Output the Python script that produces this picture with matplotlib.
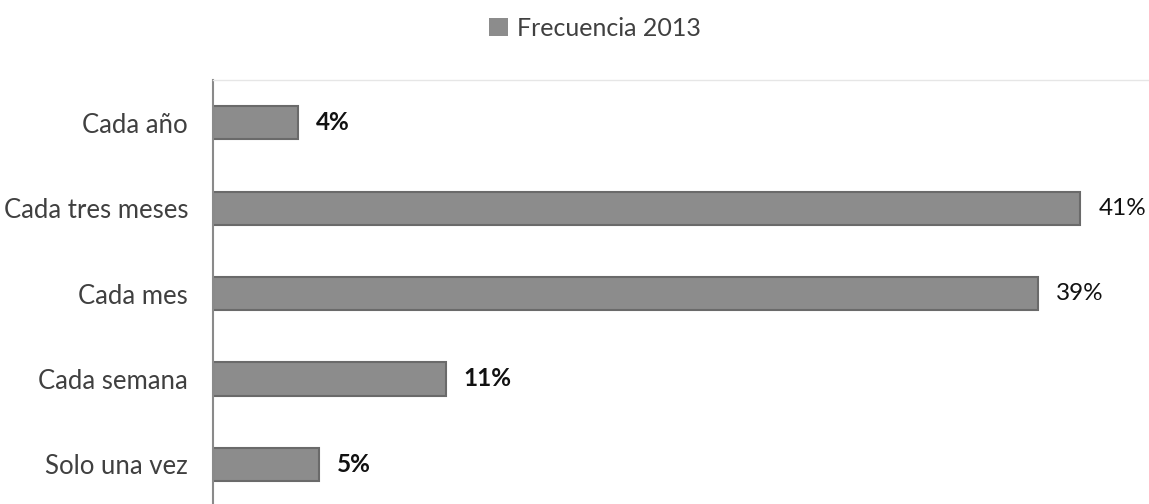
import matplotlib.pyplot as plt
from matplotlib.patches import Patch

categories = ['Cada año', 'Cada tres meses', 'Cada mes', 'Cada semana', 'Solo una vez']
values = [4, 41, 39, 11, 5]
value_labels = ['4%', '41%', '39%', '11%', '5%']
label_bold = [True, False, False, True, True]
SERIES = 'Frecuencia 2013'

plt.rcParams['font.family'] = ['Lato', 'DejaVu Sans']

fig = plt.figure(figsize=(11.49, 5.04), dpi=100)
ax = fig.add_axes([0.1854, -0.006, 0.8146, 0.847])

ypos = list(range(len(categories)))
ax.barh(ypos, values, height=0.39, color='#8c8c8c', edgecolor='#6a6a6a', linewidth=1.5)

for y, v, lab, b in zip(ypos, values, value_labels, label_bold):
  ax.text(v + 0.85, y, lab, va='center', ha='left', fontsize=17.5,
          color='#111111', fontweight='bold' if b else 'normal')

ax.set_xlim(0, 44.25)
ax.set_ylim(len(categories) - 0.5, -0.5)
ax.set_yticks(ypos)
ax.set_yticklabels(categories, fontsize=18.5, color='#404040')
ax.tick_params(axis='y', length=0, pad=18)
ax.set_xticks([])

for s in ['right', 'bottom']:
  ax.spines[s].set_visible(False)
ax.spines['left'].set_color('#8a8a8a')
ax.spines['left'].set_linewidth(1.5)
ax.spines['top'].set_color('#e6e6e6')
ax.spines['top'].set_linewidth(1.0)

fig.legend(handles=[Patch(facecolor='#8c8c8c', edgecolor='none', label=SERIES)],
           loc='center', bbox_to_anchor=(0.518, 0.944), frameon=False,
           fontsize=18, labelcolor='#404040', handlelength=0.75, handleheight=0.75,
           handletextpad=0.35)

fig.savefig('out.png', dpi=100)
